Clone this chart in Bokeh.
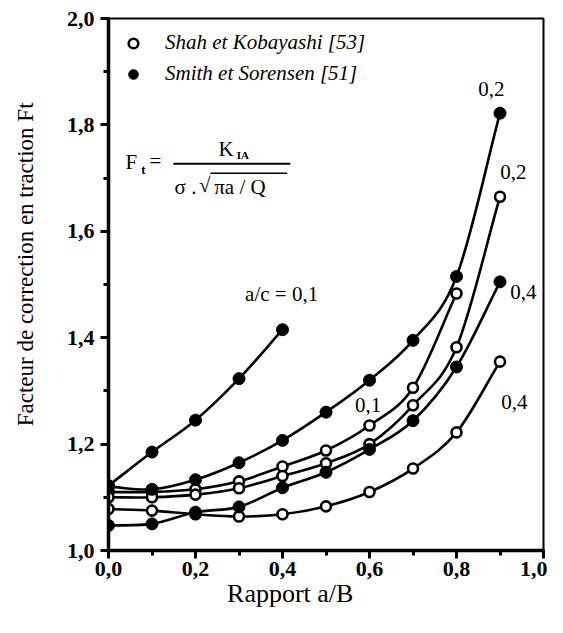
import numpy as np
from bokeh.plotting import figure
from bokeh.models import (Range1d, FixedTicker, CustomJSTickFormatter, Label,
                          Legend, LegendItem)
from bokeh.embed import file_html
from bokeh.resources import INLINE

# ---------------- data ----------------
ratio_ab = [0.0, 0.1, 0.2, 0.3, 0.4, 0.5, 0.6, 0.7, 0.8, 0.9]

# Shah et Kobayashi [53] (open circles)
shah_ac01 = [1.110, 1.110, 1.115, 1.130, 1.158, 1.188, 1.235, 1.306, 1.483]
shah_ac02 = [1.100, 1.100, 1.105, 1.117, 1.140, 1.164, 1.200, 1.273, 1.382, 1.665]
shah_ac04 = [1.078, 1.075, 1.068, 1.064, 1.068, 1.083, 1.110, 1.154, 1.222, 1.355]

# Smith et Sorensen [51] (filled markers)
smith_ac01 = [1.122, 1.185, 1.245, 1.323, 1.415]
smith_ac02 = [1.120, 1.115, 1.133, 1.165, 1.207, 1.260, 1.320, 1.395, 1.515, 1.822]
smith_ac04 = [1.047, 1.050, 1.072, 1.082, 1.118, 1.147, 1.190, 1.244, 1.345, 1.505]

x_ticks = [0.0, 0.2, 0.4, 0.6, 0.8, 1.0]
x_minor = [0.1, 0.3, 0.5, 0.7, 0.9]
y_ticks = [1.0, 1.2, 1.4, 1.6, 1.8, 2.0]
y_minor = [1.1, 1.3, 1.5, 1.7, 1.9]

x_title = "Rapport a/B"
y_title = "Facteur de correction en traction Ft"

SERIF = "Liberation Serif"
NBSP = "\u00a0"

p = figure(width=547, height=617, x_range=Range1d(0, 1), y_range=Range1d(1, 2),
           output_backend="svg", toolbar_location=None,
           min_border_left=108, min_border_right=4,
           min_border_top=18, min_border_bottom=67)

p.xgrid.grid_line_color = None
p.ygrid.grid_line_color = None
p.outline_line_color = "black"
p.outline_line_width = 2
p.background_fill_color = "white"
p.border_fill_color = "white"

fmt = CustomJSTickFormatter(code="return tick.toFixed(1).replace('.', ',');")
p.xaxis.ticker = FixedTicker(ticks=x_ticks, minor_ticks=x_minor)
p.yaxis.ticker = FixedTicker(ticks=y_ticks, minor_ticks=y_minor)
for ax in (p.xaxis, p.yaxis):
    ax.formatter = fmt
    ax.axis_line_width = 3.5
    ax.axis_line_color = "black"
    ax.major_tick_line_width = 3
    ax.minor_tick_line_width = 3
    ax.major_tick_line_color = "black"
    ax.minor_tick_line_color = "black"
    ax.major_tick_out = 8
    ax.major_tick_in = 1
    ax.minor_tick_out = 5
    ax.minor_tick_in = 1
    ax.major_label_text_font = SERIF
    ax.major_label_text_font_size = "22px"
    ax.major_label_text_font_style = "bold"
    ax.major_label_text_color = "black"
    ax.axis_label_text_font = SERIF
    ax.axis_label_text_font_style = "normal"
    ax.axis_label_text_color = "black"
p.xaxis.major_label_standoff = 3
p.yaxis.major_label_standoff = 6

# axis titles (non-breaking spaces shift the centred title as in the reference)
p.xaxis.axis_label = x_title + NBSP * 11
p.xaxis.axis_label_text_font_size = "26px"
p.xaxis.axis_label_standoff = 0
p.yaxis.axis_label = NBSP * 7 + y_title
p.yaxis.axis_label_text_font_size = "23px"
p.yaxis.axis_label_standoff = 26


def bezier_segments(xs, ys):
    x = np.asarray(xs, float)
    y = np.asarray(ys, float)
    xp = np.concatenate([[2 * x[0] - x[1]], x, [2 * x[-1] - x[-2]]])
    yp = np.concatenate([[2 * y[0] - y[1]], y, [2 * y[-1] - y[-2]]])
    x0, y0 = xp[1:-2], yp[1:-2]
    x1, y1 = xp[2:-1], yp[2:-1]
    cx0 = x0 + (xp[2:-1] - xp[:-3]) / 6.0
    cy0 = y0 + (yp[2:-1] - yp[:-3]) / 6.0
    cx1 = x1 - (xp[3:] - xp[1:-2]) / 6.0
    cy1 = y1 - (yp[3:] - yp[1:-2]) / 6.0
    return dict(x0=x0, y0=y0, x1=x1, y1=y1, cx0=cx0, cy0=cy0, cx1=cx1, cy1=cy1)


series = [
    (shah_ac01, "open"), (shah_ac02, "open"), (shah_ac04, "open"),
    (smith_ac01, "filled"), (smith_ac02, "filled"), (smith_ac04, "filled"),
]

for ys, kind in series:
    xs = ratio_ab[:len(ys)]
    p.bezier(line_color="black", line_width=2.6, **bezier_segments(xs, ys))

open_r = None
filled_r = None
for ys, kind in series:
    xs = ratio_ab[:len(ys)]
    if kind == "open":
        r = p.scatter(xs, ys, marker="circle", size=10, fill_color="white",
                      line_color="black", line_width=2.6)
        open_r = open_r or r
    else:
        r = p.scatter(xs, ys, marker="circle", size=12, fill_color="black",
                      line_color="black", line_width=1)
        filled_r = filled_r or r

legend = Legend(items=[LegendItem(label="Shah et Kobayashi [53]", renderers=[open_r]),
                       LegendItem(label="Smith et Sorensen [51]", renderers=[filled_r])],
                location="top_left", margin=12, padding=12, spacing=6,
                glyph_width=26, glyph_height=24, label_height=24, label_standoff=19,
                border_line_color=None, background_fill_alpha=0,
                label_text_font=SERIF, label_text_font_style="italic",
                label_text_font_size="21px", label_text_color="black")
p.add_layout(legend)


def lab(text, x, y, size, align="center", style="normal", font=SERIF,
        baseline="middle"):
    p.add_layout(Label(x=x, y=y, text=text, text_font=font, text_font_size=size,
                       text_font_style=style, text_align=align,
                       text_baseline=baseline, text_color="black"))


# curve labels
lab("a/c = 0,1", 0.398, 1.483, "21px")
lab("0,2", 0.880, 1.868, "21px")
lab("0,2", 0.931, 1.711, "21px")
lab("0,4", 0.954, 1.485, "21px")
lab("0,1", 0.597, 1.274, "21px")
lab("0,4", 0.933, 1.280, "21px")

# formula  Ft = K_IA / (sigma . sqrt(pi a / Q))
lab("F", 0.039, 1.731, "21px", align="left")
lab("t", 0.075, 1.716, "13px", align="left", style="bold")
lab("=", 0.094, 1.733, "21px", align="left")
p.segment(x0=[0.149], y0=[1.727], x1=[0.418], y1=[1.727], line_color="black", line_width=2)
lab("K", 0.253, 1.754, "21px", align="left")
lab("IA", 0.295, 1.744, "11px", align="left", style="bold")
lab("σ .", 0.152, 1.683, "21px", align="left")
lab("√", 0.208, 1.687, "21px", align="left")
p.segment(x0=[0.234], y0=[1.709], x1=[0.411], y1=[1.709], line_color="black", line_width=1.5)
lab("πa / Q", 0.243, 1.683, "21px", align="left")

open("out.html", "w").write(file_html(p, INLINE))
